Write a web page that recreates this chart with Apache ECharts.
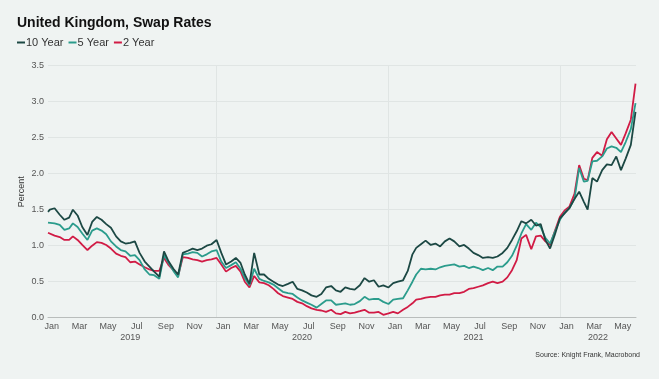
<!DOCTYPE html>
<html><head><meta charset="utf-8">
<script src="https://cdn.jsdelivr.net/npm/echarts@6/dist/echarts.min.js"></script>
<style>html,body{margin:0;padding:0;background:#eff3f2}#c{width:659px;height:379px}</style>
</head><body><div id="c"></div>
<script>
const dates = [
'2019-01-07','2019-01-11','2019-01-21','2019-02-01','2019-02-11','2019-02-21','2019-03-01','2019-03-11','2019-03-21',
'2019-04-01','2019-04-11','2019-04-21','2019-05-01','2019-05-11','2019-05-21','2019-06-01','2019-06-11','2019-06-21',
'2019-07-01','2019-07-11','2019-07-21','2019-08-01','2019-08-11','2019-08-21','2019-09-01','2019-09-11','2019-09-21',
'2019-10-01','2019-10-11','2019-10-21','2019-11-01','2019-11-11','2019-11-21','2019-12-01','2019-12-11','2019-12-21',
'2020-01-01','2020-01-11','2020-01-21','2020-02-01','2020-02-11','2020-02-21','2020-03-01','2020-03-11','2020-03-21',
'2020-04-01','2020-04-11','2020-04-21','2020-05-01','2020-05-11','2020-05-21','2020-06-01','2020-06-11','2020-06-21',
'2020-07-01','2020-07-11','2020-07-21','2020-08-01','2020-08-11','2020-08-21','2020-09-01','2020-09-11','2020-09-21',
'2020-10-01','2020-10-11','2020-10-21','2020-11-01','2020-11-11','2020-11-21','2020-12-01','2020-12-11','2020-12-21',
'2021-01-01','2021-01-11','2021-01-21','2021-02-01','2021-02-11','2021-02-21','2021-03-01','2021-03-11','2021-03-21',
'2021-04-01','2021-04-11','2021-04-21','2021-05-01','2021-05-11','2021-05-21','2021-06-01','2021-06-11','2021-06-21',
'2021-07-01','2021-07-11','2021-07-21','2021-08-01','2021-08-11','2021-08-21','2021-09-01','2021-09-11','2021-09-21',
'2021-10-01','2021-10-11','2021-10-21','2021-11-01','2021-11-11','2021-11-21','2021-12-01','2021-12-11','2021-12-21',
'2022-01-01','2022-01-11','2022-01-21','2022-02-01','2022-02-11','2022-02-21','2022-03-01','2022-03-11','2022-03-21',
'2022-04-01','2022-04-11','2022-04-21','2022-05-01','2022-05-11','2022-05-21','2022-06-01','2022-06-11'
];
const rate10 = [
1.47,1.50,1.52, 1.43,1.36,1.39, 1.50,1.42,1.26, 1.15,1.33,1.40, 1.36,1.30,1.25, 1.13,1.06,1.03,
1.04,1.06,0.90, 0.78,0.71,0.64, 0.57,0.92,0.78, 0.68,0.60,0.90, 0.93,0.96,0.94, 0.96,1.00,1.02,
1.08,0.90,0.74, 0.78,0.83,0.76, 0.60,0.47,0.90, 0.60,0.60,0.54, 0.50,0.46,0.44, 0.47,0.50,0.40,
0.38,0.35,0.31, 0.29,0.33,0.42, 0.44,0.38,0.36, 0.42,0.40,0.39, 0.45,0.55,0.50, 0.52,0.43,0.45,
0.42,0.48,0.50, 0.52,0.65,0.88, 0.97,1.02,1.07, 1.01,1.03,0.99, 1.06,1.10,1.06, 0.99,1.01,0.96,
0.90,0.87,0.83, 0.84,0.83,0.85, 0.90,0.97,1.08, 1.20,1.34,1.31, 1.36,1.28,1.30, 1.08,0.96,1.15,
1.38,1.45,1.52, 1.65,1.75,1.61, 1.50,1.94,1.89, 2.05,2.13,2.12, 2.24,2.05,2.21, 2.40,2.86
];
const rate5 = [
1.32,1.33,1.31, 1.29,1.22,1.24, 1.31,1.26,1.17, 1.08,1.21,1.24, 1.21,1.16,1.06, 0.99,0.94,0.92,
0.86,0.87,0.80, 0.67,0.60,0.59, 0.54,0.87,0.76, 0.65,0.56,0.88, 0.89,0.91,0.90, 0.85,0.88,0.92,
0.94,0.78,0.69, 0.73,0.77,0.68, 0.55,0.45,0.68, 0.54,0.51,0.49, 0.46,0.41,0.36, 0.34,0.33,0.28,
0.24,0.21,0.18, 0.14,0.19,0.24, 0.24,0.18,0.19, 0.20,0.18,0.19, 0.23,0.29,0.25, 0.26,0.26,0.22,
0.19,0.25,0.26, 0.27,0.38,0.50, 0.60,0.68,0.67, 0.68,0.67,0.70, 0.72,0.73,0.74, 0.71,0.72,0.69,
0.71,0.69,0.66, 0.69,0.66,0.71, 0.71,0.77,0.86, 1.00,1.17,1.30, 1.22,1.32,1.26, 1.11,1.03,1.19,
1.36,1.46,1.52, 1.65,2.08,1.89, 1.90,2.17,2.18, 2.24,2.35,2.38, 2.36,2.30,2.44, 2.62,2.98
];
const rate2 = [
1.18,1.17,1.14, 1.12,1.08,1.08, 1.13,1.08,1.01, 0.94,1.00,1.05, 1.04,1.01,0.96, 0.89,0.86,0.84,
0.77,0.78,0.74, 0.70,0.67,0.65, 0.65,0.83,0.73, 0.66,0.58,0.84, 0.83,0.81,0.80, 0.78,0.80,0.81,
0.83,0.74,0.64, 0.69,0.72,0.64, 0.50,0.42,0.58, 0.49,0.48,0.45, 0.40,0.34,0.30, 0.28,0.26,0.22,
0.20,0.16,0.13, 0.11,0.10,0.08, 0.11,0.06,0.05, 0.08,0.06,0.07, 0.09,0.11,0.07, 0.07,0.08,0.04,
0.06,0.08,0.06, 0.11,0.15,0.20, 0.25,0.26,0.28, 0.29,0.29,0.31, 0.32,0.32,0.34, 0.34,0.36,0.40,
0.41,0.43,0.45, 0.48,0.50,0.48, 0.50,0.56,0.66, 0.80,1.10,1.15, 0.95,1.13,1.14, 1.06,1.01,1.20,
1.40,1.49,1.54, 1.72,2.12,1.93, 1.91,2.22,2.30, 2.25,2.48,2.58, 2.49,2.40,2.56, 2.75,3.25
];
const seriesNames = ['10 Year','5 Year','2 Year'];
const monthLabelDates = [
'2019-01-15','2019-03-15','2019-05-15','2019-07-15','2019-09-15','2019-11-15',
'2020-01-15','2020-03-15','2020-05-15','2020-07-15','2020-09-15','2020-11-15',
'2021-01-15','2021-03-15','2021-05-15','2021-07-15','2021-09-15','2021-11-15',
'2022-01-15','2022-03-15','2022-05-15'
];
const yearLabelDates = ['2019-07-01','2020-07-01','2021-07-01','2022-03-23'];
const yearBoundaries = ['2020-01-01','2021-01-01','2022-01-01'];
const monthNames = ['Jan','Feb','Mar','Apr','May','Jun','Jul','Aug','Sep','Oct','Nov','Dec'];
const xStart = '2019-01-07', xEnd = '2022-06-12';

const ts = d => Date.parse(d);
const pairs = vals => dates.map((d, i) => [ts(d), vals[i]]);
const colors = {'10 Year':'#1c4844','5 Year':'#2b9c8c','2 Year':'#d11b45'};
const FONT = '"Liberation Sans", Arial, sans-serif';

const chart = echarts.init(document.getElementById('c'), null, {renderer:'canvas'});
chart.setOption({
  backgroundColor: '#eff3f2',
  animation: false,
  textStyle: {fontFamily: FONT},
  title: [
    {text: 'United Kingdom, Swap Rates', left: 17, top: 16, padding: 0,
     textStyle: {fontSize: 14, fontWeight: 'bold', color: '#111', fontFamily: FONT}},
    {text: 'Source: Knight Frank, Macrobond', right: 19, top: 352, padding: 0,
     textStyle: {fontSize: 7, fontWeight: 'normal', color: '#333', fontFamily: FONT}}
  ],
  legend: {
    data: seriesNames, left: 17, top: 37, padding: 0, itemGap: 5,
    icon: 'rect', itemWidth: 8, itemHeight: 2,
    textStyle: {fontSize: 11, color: '#333', padding: [0,0,0,-4], fontFamily: FONT}
  },
  grid: {left: 48, right: 23, top: 65.7, bottom: 61.3, containLabel: false},
  xAxis: [
    {type: 'value', min: ts(xStart), max: ts(xEnd),
     axisLine: {show: true, lineStyle: {color: '#b9bdbc', width: 1}},
     axisTick: {show: false, customValues: yearBoundaries.map(ts)},
     splitLine: {show: true, lineStyle: {color: '#e0e5e4', width: 1}},
     axisLabel: {customValues: monthLabelDates.map(ts), margin: 4, fontSize: 9, color: '#555',
       formatter: v => monthNames[new Date(v).getUTCMonth()]}},
    {type: 'value', min: ts(xStart), max: ts(xEnd), position: 'bottom', offset: 11,
     axisLine: {show: false}, axisTick: {show: false}, splitLine: {show: false},
     axisLabel: {customValues: yearLabelDates.map(ts), margin: 4, fontSize: 9, color: '#555',
       formatter: v => String(new Date(v).getUTCFullYear())}}
  ],
  yAxis: {
    type: 'value', min: 0, max: 3.5, interval: 0.5,
    name: 'Percent', nameLocation: 'middle', nameGap: 22, nameMoveOverlap: false,
    nameTextStyle: {fontSize: 9, color: '#333'},
    axisLine: {show: false}, axisTick: {show: false},
    splitLine: {lineStyle: {color: '#e0e5e4', width: 1}},
    axisLabel: {fontSize: 9, color: '#555', margin: 4, formatter: v => v.toFixed(1)}
  },
  series: [
    {name: '2 Year', type: 'line', data: pairs(rate2), showSymbol: false, color: colors['2 Year'], lineStyle: {width: 1.8}},
    {name: '5 Year', type: 'line', data: pairs(rate5), showSymbol: false, color: colors['5 Year'], lineStyle: {width: 1.8}},
    {name: '10 Year', type: 'line', data: pairs(rate10), showSymbol: false, color: colors['10 Year'], lineStyle: {width: 1.8}}
  ]
});
</script></body></html>
